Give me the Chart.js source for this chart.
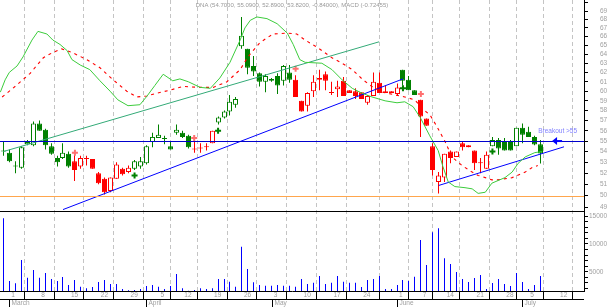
<!DOCTYPE html>
<html>
<head>
<meta charset="utf-8">
<title>DNA</title>
<script src="https://cdn.jsdelivr.net/npm/chart.js@4.4.1/dist/chart.umd.min.js"></script>
<style>
  html, body { margin: 0; padding: 0; background: #fff; overflow: hidden; }
  canvas { display: block; }
</style>
</head>
<body>
<canvas id="myChart" width="610" height="307"></canvas>
<script>
const ticker = 'DNA'
const macdLast = -0.72455

// trading-day slots of the time axis (data runs to 7/7, the rest is empty axis)
const dates = ['2/27',
  '3/1','3/2','3/3','3/4','3/5','3/8','3/9','3/10','3/11','3/12','3/15','3/16','3/17','3/18','3/19',
  '3/22','3/23','3/24','3/25','3/26','3/29','3/30','3/31',
  '4/1','4/2','4/5','4/6','4/7','4/8','4/12','4/13','4/14','4/15','4/16','4/19','4/20','4/21','4/22','4/23',
  '4/26','4/27','4/28','4/29','4/30',
  '5/3','5/4','5/5','5/6','5/7','5/10','5/11','5/12','5/13','5/14','5/17','5/18','5/19','5/20','5/21',
  '5/24','5/25','5/26','5/27','5/28','5/31',
  '6/1','6/2','6/3','6/4','6/7','6/8','6/9','6/10','6/14','6/15','6/16','6/17','6/18',
  '6/21','6/22','6/23','6/24','6/25','6/28','6/29','6/30',
  '7/1','7/2','7/6','7/7','7/8','7/9','7/12','7/13']

const openP = [54.0,
  53.9, 52.6, 52.5, 54.7, 54.6, 56.7, 56.1, 54.5, 53.4, 53.4, 53.8, 53.1, 52.6, 53.3, 53.3,
  52.0, 51.5, 50.4, 51.5, 52.4, 52.1, 52.4, 52.6,
  52.9, 54.9, 55.3, 55.2, 54.5, 55.8, 55.8, 55.5, 54.2, 54.3, 54.4, 54.8, 56.8, 57.3, 57.9, 58.6,
  64.9, 64.6, 62.7, 61.9, 61.0,
  61.1, 61.6, 61.1, 62.0, 61.2, 59.0, 58.5, 60.0, 61.2, 61.8, 59.8, 60.2, 61.1, 60.1, 60.0,
  59.9, 58.8, 59.5, 60.9, 60.0, 60.0,
  59.7, 62.3, 61.2, 60.1, 59.1, 57.2, 54.5, 51.2, 51.6, 54.0, 53.5, 54.8, 54.4,
  54.1, 52.9, 52.4, 54.5, 55.1, 54.9, 54.9, 54.5,
  56.3, 55.9, 55.4, 54.70]
const highP = [55.0,
  54.2, 53.1, 54.5, 55.1, 56.9, 57.0, 56.2, 54.8, 53.6, 54.8, 54.0, 53.7, 53.6, 53.6, 53.3,
  52.1, 51.6, 51.6, 53.0, 52.5, 52.7, 53.2, 53.5,
  54.6, 55.8, 56.6, 55.5, 55.0, 56.6, 56.0, 55.6, 55.2, 54.8, 54.8, 56.0, 57.4, 58.0, 59.6, 59.4,
  68.3, 64.6, 63.8, 62.0, 61.8,
  61.4, 61.9, 62.8, 62.8, 61.7, 59.0, 59.9, 61.7, 62.3, 62.1, 61.0, 61.1, 61.5, 60.1, 60.3,
  59.9, 59.6, 62.0, 62.0, 60.6, 60.0,
  60.8, 62.3, 61.6, 60.1, 59.1, 57.2, 54.8, 52.1, 53.8, 54.1, 54.0, 54.9, 54.6,
  54.1, 53.4, 54.0, 55.4, 55.3, 55.3, 55.1, 56.3,
  56.7, 56.4, 55.5, 55.09]
const lowP = [53.6,
  53.0, 52.0, 52.4, 54.6, 54.5, 56.0, 54.2, 53.7, 52.6, 53.3, 52.5, 51.3, 52.4, 52.7, 52.4,
  51.0, 50.1, 50.3, 51.5, 51.8, 52.0, 52.3, 52.4,
  52.8, 54.4, 55.3, 54.7, 54.2, 55.6, 55.3, 54.3, 53.9, 53.9, 54.1, 54.8, 56.6, 57.2, 57.5, 58.3,
  64.6, 61.8, 61.6, 60.5, 59.9,
  61.0, 59.7, 60.6, 60.9, 59.4, 57.9, 57.9, 59.4, 60.1, 60.1, 59.6, 59.4, 59.5, 59.8, 59.2,
  59.2, 58.6, 59.5, 59.8, 59.8, 59.8,
  59.6, 60.6, 60.1, 59.6, 55.4, 56.5, 51.8, 50.2, 51.2, 52.9, 53.5, 54.1, 54.4,
  52.3, 52.0, 52.4, 54.5, 53.7, 54.1, 54.1, 54.5,
  54.8, 55.4, 54.6, 52.89]
const closeP = [54.0,
  53.1, 52.6, 54.4, 54.9, 56.7, 56.0, 54.6, 53.8, 53.0, 53.9, 52.6, 52.3, 53.4, 53.3, 52.4,
  51.1, 50.3, 51.6, 52.8, 51.9, 52.5, 53.1, 53.1,
  54.5, 55.4, 55.6, 55.2, 54.2, 56.1, 55.4, 54.4, 54.2, 54.3, 54.4, 56.0, 57.3, 57.9, 58.9, 59.2,
  66.1, 62.5, 62.1, 61.0, 61.6,
  61.3, 60.6, 62.7, 61.2, 59.4, 57.9, 59.8, 61.0, 61.4, 61.1, 59.8, 60.5, 59.5, 59.8, 59.5,
  59.2, 59.5, 61.0, 59.8, 59.8, 59.8,
  60.4, 61.1, 60.1, 59.6, 57.4, 56.5, 52.3, 51.8, 53.8, 53.4, 54.0, 54.4, 54.6,
  52.9, 52.9, 53.7, 55.1, 54.3, 54.1, 54.1, 56.3,
  55.6, 55.4, 54.66, 53.82]
const volume = [14600,
  3330, 2920, 7100, 3920, 5300, 3920, 4770, 3690, 3330, 4050, 2610, 3510, 2310, 2020, 2250,
  3150, 3510, 2790, 2790, 1900, 1660, 1720, 1900,
  2430, 2610, 2310, 1900, 2430, 4590, 2020, 1590, 1720, 2020, 1900, 2020, 3690, 3690, 3200, 2310,
  9490, 5480, 3100, 2610, 2490,
  2490, 2610, 2490, 2490, 2310, 3690, 2790, 3030, 4230, 2790, 3030, 4230, 3200, 3030, 3030,
  2250, 3510, 3690, 4230, 1900, 1900,
  2610, 3510, 3330, 4100, 10690, 6200, 12070, 12790, 7400, 6380, 4950, 3690, 3150,
  3870, 4410, 1900, 2970, 3690, 2790, 2430, 4770,
  3150, 1900, 2610, 4230]

// trade signals
const buyDates = ['3/30', '4/20', '6/2', '6/24']
const buyMarks = [51.8, 56.0, 60.3, 54.0]
const sellDates = ['3/16', '4/14', '5/7', '6/7']
const sellMarks = [53.9, 55.3, 62.4, 59.7]

// envelope line (green) and moving average (red), positions in trading days
const bandPos = [-0.5, 0.3, 1, 2.3, 3.3, 4.8, 5.8, 7.3, 8.3, 9.5, 10.7, 11.5, 12.9, 14.5, 16.2, 17.9, 19.2, 20.9,
  22.9, 24.1, 25.4, 26.8, 28.4, 29.6, 31, 33, 34.7, 36.3, 38, 39.7, 40.5, 41.4, 42.5, 44.2, 45.9, 47.6, 48.6,
  49.7, 50.6, 53.4, 55.1, 56.8, 58.5, 60.1, 61.8, 64, 66, 67.3, 68.7, 69.9, 71.5, 72.9, 73.7, 74.6, 75.7,
  77.4, 78.6, 79.6, 80.8, 81.9, 84.1, 85.3, 86.3, 87.5, 89.1, 90.3]
const bandVals = [59.9, 61.2, 62.0, 62.7, 63.7, 65.6, 66.6, 66.3, 65.6, 65.1, 64.4, 63.4, 62.8, 62.3, 61.1, 60.0,
  59.1, 58.5, 58.6, 59.5, 60.6, 61.8, 61.1, 61.3, 61.0, 60.4, 60.3, 61.4, 63.1, 65.6, 67.0, 67.9, 68.3, 68.1,
  67.5, 66.4, 65.1, 63.4, 63.1, 63.0, 62.3, 61.2, 60.3, 59.8, 59.4, 59.0, 58.8, 58.9, 58.4, 57.3, 55.5, 54.1,
  52.6, 51.2, 50.8, 50.7, 50.6, 50.2, 50.3, 51.1, 51.6, 52.1, 52.9, 53.5, 53.9, 54.0]
const maPos = [-0.2, 1.6, 4.5, 6.7, 8.3, 9.8, 11.5, 14, 16.2, 18.4, 20.7, 22.4, 24.1, 25.8, 27.9, 30.1, 33, 35.2,
  37.5, 39.7, 41, 43, 45.2, 47.6, 49.2, 50.6, 52.8, 55.1, 56.8, 58.5, 60.3, 61.8, 63.5, 67.3, 69, 70.4, 71.5,
  72.7, 74.1, 75.2, 76.9, 78.6, 79.6, 80.8, 81.9, 82.9, 85.3, 87.5, 88.6, 89.6]
const maVals = [59.4, 60.3, 61.9, 63.6, 64.2, 64.6, 64.2, 63.4, 62.5, 61.2, 60.0, 59.4, 59.5, 59.8, 60.1, 60.5,
  60.4, 60.4, 61.0, 62.3, 63.7, 65.3, 66.3, 66.4, 66.3, 65.6, 64.7, 63.6, 63.0, 62.3, 61.2, 60.5, 59.9, 59.4,
  59.1, 58.1, 57.6, 56.4, 54.9, 53.5, 52.7, 52.1, 51.8, 51.6, 51.4, 51.4, 51.6, 52.1, 52.5, 52.7]

// drawn trend lines [date, price]
const greenTrend = [['2/27', 54.0], ['5/27', 65.4]]
const blueTrendA = [['3/12', 48.8], ['6/2', 61.3]]
const blueTrendB = [['6/10', 50.9], ['7/13', 54.45]]
const levels = [55, 50]
const breakoutDate = '7/9'
const breakoutNoteDate = '7/6'
const breakoutNote = 'Breakout >55'

// axes
const weekStarts = ['3/1','3/8','3/15','3/22','3/29','4/5','4/12','4/19','4/26','5/3','5/10','5/17','5/24',
  '6/1','6/7','6/14','6/21','6/28','7/2','7/12']
const weekLabels = ['1','8','15','22','29','5','12','19','26','3','10','17','24','1','7','14','21','28','5','12']
const monthStarts = ['3/1', '4/1', '5/3', '6/1', '7/1']
const monthNames = ['March', 'April', 'May', 'June', 'July']
const priceTicks = [49, 50, 51, 52, 53, 54, 55, 56, 57, 58, 59, 60, 61, 62, 63, 64, 65, 66, 67, 68, 69, 70]
const volTicks = [5000, 10000, 15000]


const GREEN = '#008000'
const RED = '#ff0000'
const LABEL = '#a0a0a0'
const FONT = 'Liberation Sans'
Chart.defaults.font.family = FONT

const at = d => dates.indexOf(d)

let state = 'g'
const tone = closeP.map((c, i) => {
  if (sellDates.includes(dates[i])) state = 'r'
  if (buyDates.includes(dates[i])) state = 'g'
  return state === 'g' ? GREEN : RED
})
const bodyFill = closeP.map((c, i) => c >= openP[i] ? '#ffffff' : tone[i])
const bodies = closeP.map((c, i) => ({ x: i, y: [openP[i], c] }))
const wicks = closeP.map((c, i) => ({ x: i, y: [lowP[i], highP[i]] }))
const vols = volume.map((v, i) => ({ x: i, y: v }))
const toPts = pairs => pairs.map(p => ({ x: at(p[0]), y: p[1] }))

const minorVol = []
for (let v = 2000; v <= 15000; v += 1000) minorVol.push(v)

function line(ctx, x1, y1, x2, y2) {
  ctx.beginPath(); ctx.moveTo(x1, y1); ctx.lineTo(x2, y2); ctx.stroke()
}

// keep the thin bars on whole pixels so they stay crisp
const snapBars = {
  id: 'snapBars',
  beforeDatasetsDraw(chart) {
    chart.data.datasets.forEach((ds, i) => {
      if (ds.type !== 'bar') return
      chart.getDatasetMeta(i).data.forEach(el => { el.x = Math.floor(el.x) + 0.5 })
    })
  }
}

const overlay = {
  id: 'overlay',
  afterDatasetsDraw(chart) {
    const { ctx, chartArea: a, scales } = chart
    const yP = scales.yP
    ctx.save()
    ctx.lineWidth = 1.2
    ctx.strokeStyle = '#0000cc'
    let py = Math.round(yP.getPixelForValue(levels[0])) + 0.5
    line(ctx, a.left, py, a.right, py)
    ctx.lineWidth = 1
    ctx.strokeStyle = '#ffa64d'
    py = Math.round(yP.getPixelForValue(levels[1])) + 0.5
    line(ctx, a.left, py, a.right, py)

    // breakout arrow and note
    const tipX = scales.x.getPixelForValue(at(breakoutDate))
    const ay = yP.getPixelForValue(levels[0])
    ctx.strokeStyle = '#0000ff'
    ctx.fillStyle = '#0000ff'
    ctx.lineWidth = 2
    line(ctx, tipX + 4, ay, tipX + 10, ay)
    ctx.beginPath()
    ctx.moveTo(tipX, ay)
    ctx.lineTo(tipX + 5, ay - 4)
    ctx.lineTo(tipX + 5, ay + 4)
    ctx.closePath()
    ctx.fill()
    ctx.font = '6.5px "' + FONT + '"'
    ctx.fillStyle = '#8080ff'
    ctx.textAlign = 'left'
    ctx.textBaseline = 'middle'
    ctx.fillText(breakoutNote, scales.x.getPixelForValue(at(breakoutNoteDate)) + 4, ay - 10)
    ctx.restore()
  },
  afterDraw(chart) {
    const { ctx, chartArea: a, scales } = chart
    const x = scales.x
    ctx.save()
    ctx.strokeStyle = '#000'
    ctx.lineWidth = 1
    // pane separator and month row
    const sepY = Math.round(scales.yV.top) + 0.5
    line(ctx, a.left, sepY, a.right, sepY)
    const rowY = a.bottom + 8.5
    line(ctx, a.left, rowY, a.right, rowY)
    ctx.font = '6.5px "' + FONT + '"'
    ctx.fillStyle = LABEL
    ctx.textAlign = 'left'
    ctx.textBaseline = 'middle'
    monthStarts.forEach((d, i) => {
      const px = Math.round(x.getPixelForValue(at(d))) + 0.5
      line(ctx, px, rowY, px, chart.height)
      ctx.fillText(monthNames[i], px + 2, rowY + 4)
    })
    // header
    const n = closeP.length - 1
    const chg = closeP[n] - closeP[n - 1]
    const head = ticker + ' (' + openP[n].toFixed(4) + ', ' + highP[n].toFixed(4) + ', ' + lowP[n].toFixed(4) +
      ', ' + closeP[n].toFixed(4) + ', ' + chg.toFixed(5) + '), MACD (' + macdLast.toFixed(5) + ')'
    ctx.font = '6px "' + FONT + '"'
    ctx.fillStyle = '#999999'
    ctx.textAlign = 'center'
    ctx.fillText(head, (a.left + a.right) / 2, 5)
    ctx.restore()
  }
}

const ctx = document.getElementById('myChart').getContext('2d')
const myChart = new Chart(ctx, {
  type: 'line',
  data: {
    datasets: [
      { type: 'line', data: bandPos.map((p, i) => ({ x: p, y: bandVals[i] })), yAxisID: 'yP',
        borderColor: '#3ccc3c', borderWidth: 1, pointRadius: 0, order: 0 },
      { type: 'line', data: maPos.map((p, i) => ({ x: p, y: maVals[i] })), yAxisID: 'yP',
        borderColor: '#ff0000', borderWidth: 1.1, borderDash: [3, 4], pointRadius: 0, order: 0 },
      { type: 'line', data: toPts(greenTrend), yAxisID: 'yP',
        borderColor: '#33aa77', borderWidth: 1, pointRadius: 0, order: 0 },
      { type: 'line', data: toPts(blueTrendA), yAxisID: 'yP',
        borderColor: '#0000ff', borderWidth: 1, pointRadius: 0, order: 0 },
      { type: 'line', data: toPts(blueTrendB), yAxisID: 'yP',
        borderColor: '#0000ff', borderWidth: 1, pointRadius: 0, order: 0 },
      { type: 'line', data: buyDates.map((d, i) => ({ x: at(d), y: buyMarks[i] })), yAxisID: 'yP',
        showLine: false, pointStyle: 'cross', pointRadius: 3, pointBorderWidth: 2,
        pointBorderColor: GREEN, pointBackgroundColor: GREEN, order: 0 },
      { type: 'line', data: sellDates.map((d, i) => ({ x: at(d), y: sellMarks[i] })), yAxisID: 'yP',
        showLine: false, pointStyle: 'cross', pointRadius: 3, pointBorderWidth: 2,
        pointBorderColor: '#ff7070', pointBackgroundColor: '#ff7070', order: 0 },
      { type: 'bar', data: bodies, yAxisID: 'yP', grouped: false, barThickness: 5, minBarLength: 1,
        backgroundColor: bodyFill, borderColor: tone, borderWidth: 1, borderSkipped: false,
        inflateAmount: 0, order: 1 },
      { type: 'bar', data: wicks, yAxisID: 'yP', grouped: false, barThickness: 1,
        backgroundColor: tone, borderWidth: 0, inflateAmount: 0, order: 2 },
      { type: 'bar', data: vols, yAxisID: 'yV', grouped: false, barThickness: 1,
        backgroundColor: '#0000ff', borderWidth: 0, inflateAmount: 0, order: 3 }
    ]
  },
  options: {
    responsive: false,
    animation: false,
    events: [],
    layout: { padding: 0, autoPadding: false },
    plugins: { legend: { display: false }, tooltip: { enabled: false }, title: { display: false } },
    scales: {
      x: {
        type: 'linear', position: 'bottom', min: -0.56, max: 97.35, offset: false,
        afterBuildTicks: s => { s.ticks = weekStarts.map(d => ({ value: at(d) })) },
        afterFit: s => { s.height = 16; s.paddingLeft = 0; s.paddingRight = 0 },
        grid: { color: '#c4c4c4', lineWidth: 1, drawTicks: true, tickLength: 8, tickColor: '#000',
          tickWidth: 1, tickBorderDash: [] },
        border: { display: true, color: '#000', width: 1, dash: [4, 3] },
        ticks: { align: 'start', labelOffset: 2, padding: -8, color: LABEL, font: { size: 6.5 },
          autoSkip: false, maxRotation: 0, minRotation: 0, callback: (v, i) => weekLabels[i] }
      },
      yP: {
        type: 'logarithmic', position: 'right', stack: 'pane', stackWeight: 211, min: 48.68, max: 70.35,
        afterBuildTicks: s => { s.ticks = priceTicks.map(v => ({ value: v })) },
        afterFit: s => { s.width = 26; s.paddingTop = 0; s.paddingBottom = 0 },
        grid: { drawOnChartArea: false, drawTicks: true, tickLength: 4, tickColor: '#000', tickWidth: 1 },
        border: { display: true, color: '#000', width: 1 },
        ticks: { padding: 12, color: LABEL, font: { size: 6.5 }, autoSkip: false,
          callback: v => v < priceTicks[priceTicks.length - 1] ? String(v) : '' }
      },
      yV: {
        type: 'linear', position: 'right', stack: 'pane', stackWeight: 80, min: 1540, max: 15900,
        afterBuildTicks: s => { s.ticks = minorVol.map(v => ({ value: v })) },
        afterFit: s => { s.width = 26; s.paddingTop = 0; s.paddingBottom = 0 },
        grid: { drawOnChartArea: false, drawTicks: true, tickLength: 4, tickColor: '#000', tickWidth: 1 },
        border: { display: true, color: '#000', width: 1 },
        ticks: { padding: 1, color: LABEL, font: { size: 6.5 }, autoSkip: false,
          callback: v => volTicks.includes(v) ? String(v) : '' }
      }
    }
  },
  plugins: [snapBars, overlay]
})
</script>
</body>
</html>
